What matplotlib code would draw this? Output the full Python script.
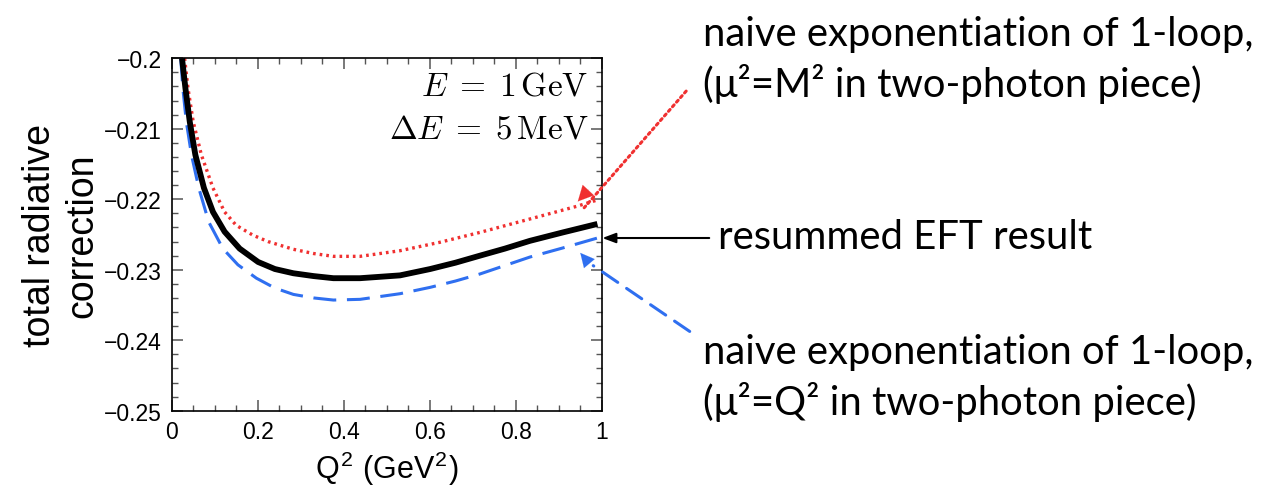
import numpy as np
import matplotlib; matplotlib.use("Agg")
import matplotlib.pyplot as plt
from matplotlib.ticker import MultipleLocator

plt.rcParams.update({"font.family": "Liberation Sans", "mathtext.fontset": "cm"})

# curves: Q^2 (GeV^2) vs total radiative correction
q_eft = [0.024, 0.032, 0.042, 0.055, 0.075, 0.096, 0.123, 0.158, 0.201, 0.240, 0.283, 0.330, 0.376, 0.438,
         0.531, 0.601, 0.660, 0.717, 0.775, 0.833, 0.910, 0.990]
y_eft = [-0.2000, -0.2043, -0.2090, -0.2137, -0.2184, -0.2218, -0.2246, -0.2270, -0.2289, -0.2299, -0.2305,
         -0.2309, -0.2312, -0.2312, -0.2308, -0.2299, -0.2290, -0.2280, -0.2270, -0.2259, -0.2247, -0.2235]

q_mm = [0.030, 0.038, 0.050, 0.069, 0.096, 0.123, 0.150, 0.189, 0.224, 0.283, 0.330, 0.376, 0.438, 0.531,
        0.624, 0.717, 0.833, 0.942, 0.990]
y_mm = [-0.2000, -0.2043, -0.2090, -0.2137, -0.2184, -0.2218, -0.2237, -0.2251, -0.2260, -0.2271, -0.2277,
        -0.2281, -0.2281, -0.2273, -0.2261, -0.2247, -0.2228, -0.2210, -0.2201]

q_qq = [0.021, 0.026, 0.034, 0.046, 0.063, 0.086, 0.119, 0.154, 0.197, 0.240, 0.283, 0.330, 0.376, 0.438,
        0.531, 0.601, 0.660, 0.717, 0.775, 0.833, 0.910, 0.990]
y_qq = [-0.2000, -0.2043, -0.2090, -0.2137, -0.2184, -0.2232, -0.2270, -0.2293, -0.2312, -0.2326, -0.2335,
        -0.2340, -0.2343, -0.2342, -0.2334, -0.2325, -0.2316, -0.2306, -0.2294, -0.2282, -0.2269, -0.2255]

xticks = [0, 0.2, 0.4, 0.6, 0.8, 1]
xlabels = ["0", "0.2", "0.4", "0.6", "0.8", "1"]
yticks = [-0.25, -0.24, -0.23, -0.22, -0.21, -0.2]
ylabels = ["\u22120.25", "\u22120.24", "\u22120.23", "\u22120.22", "\u22120.21", "\u22120.2"]

txt_mm = "naive exponentiation of 1-loop,\n(\u03bc\u00b2=M\u00b2 in two-photon piece)"
txt_eft = "resummed EFT result"
txt_qq = "naive exponentiation of 1-loop,\n(\u03bc\u00b2=Q\u00b2 in two-photon piece)"

W, H = 1266, 489
fig = plt.figure(figsize=(W/100, H/100), dpi=100)
ax = fig.add_axes([171.7/W, 1-411.7/H, 430/W, 352.4/H])

ax.plot(q_mm, y_mm, color="#f03030", lw=2.4, ls=(0, (0.8, 1.2)))
ax.plot(q_qq, y_qq, color="#2f6ff0", lw=2.2, ls=(0, (7.5, 3.5)))
ax.plot(q_eft, y_eft, color="black", lw=4.2, solid_capstyle="butt", solid_joinstyle="round")

ax.set_xlim(0, 1); ax.set_ylim(-0.25, -0.2)
ax.set_xticks(xticks); ax.set_xticklabels(xlabels)
ax.set_yticks(yticks); ax.set_yticklabels(ylabels)
ax.xaxis.set_minor_locator(MultipleLocator(0.05))
ax.yaxis.set_minor_locator(MultipleLocator(0.002))
ax.tick_params(which="both", direction="in", top=True, right=True, labelsize=16.5, color="#555555")
ax.tick_params(which="major", length=8, width=1.1, pad=7)
ax.tick_params(which="minor", length=4, width=1.0)
for s in ax.spines.values():
    s.set_linewidth(1.2)

ax.set_xlabel("Q$^\\mathregular{2}$ (GeV$^\\mathregular{2}$)", fontsize=22, labelpad=4)
ax.set_ylabel("total radiative\ncorrection", fontsize=27, labelpad=3, linespacing=1.2)

ax.text(0.97, 0.92, r"$E\;=\;1\,\mathrm{GeV}$", transform=ax.transAxes, ha="right", va="center", fontsize=24)
ax.text(0.97, 0.80, r"$\Delta E\;=\;5\,\mathrm{MeV}$", transform=ax.transAxes, ha="right", va="center", fontsize=24)

ann = dict(family="Lato", fontsize=28.8, linespacing=1.32)
fig.text(703/W, 1-60/H, txt_mm, ha="left", va="center", **ann)
fig.text(718/W, 1-238/H, txt_eft, ha="left", va="center", **ann)
fig.text(703/W, 1-378/H, txt_qq, ha="left", va="center", **ann)

# arrows from the notes to the curves
ax.annotate("", xy=(0.955, -0.2215), xytext=(688, H-90), textcoords="figure pixels",
            arrowprops=dict(arrowstyle="-", color="#f03030", lw=2.2, ls=(0, (0.8, 1.2))), annotation_clip=False)
ax.annotate("", xy=(0.940, -0.2206), xytext=(0.975, -0.2183),
            arrowprops=dict(arrowstyle="-|>,head_length=1.1,head_width=0.55", color="#f03030", lw=0.1))
ax.annotate("", xy=(0.995, -0.2255), xytext=(712, H-239), textcoords="figure pixels",
            arrowprops=dict(arrowstyle="-|>,head_length=0.8,head_width=0.3", color="black", lw=1.5), annotation_clip=False)
ax.annotate("", xy=(0.975, -0.2292), xytext=(692, H-334), textcoords="figure pixels",
            arrowprops=dict(arrowstyle="-", color="#2f6ff0", lw=2.2, ls=(0, (6, 3.5))), annotation_clip=False)
ax.annotate("", xy=(0.946, -0.2273), xytext=(0.975, -0.2294),
            arrowprops=dict(arrowstyle="-|>,head_length=1.0,head_width=0.5", color="#2f6ff0", lw=0.1))

fig.savefig("out.png", dpi=100)
